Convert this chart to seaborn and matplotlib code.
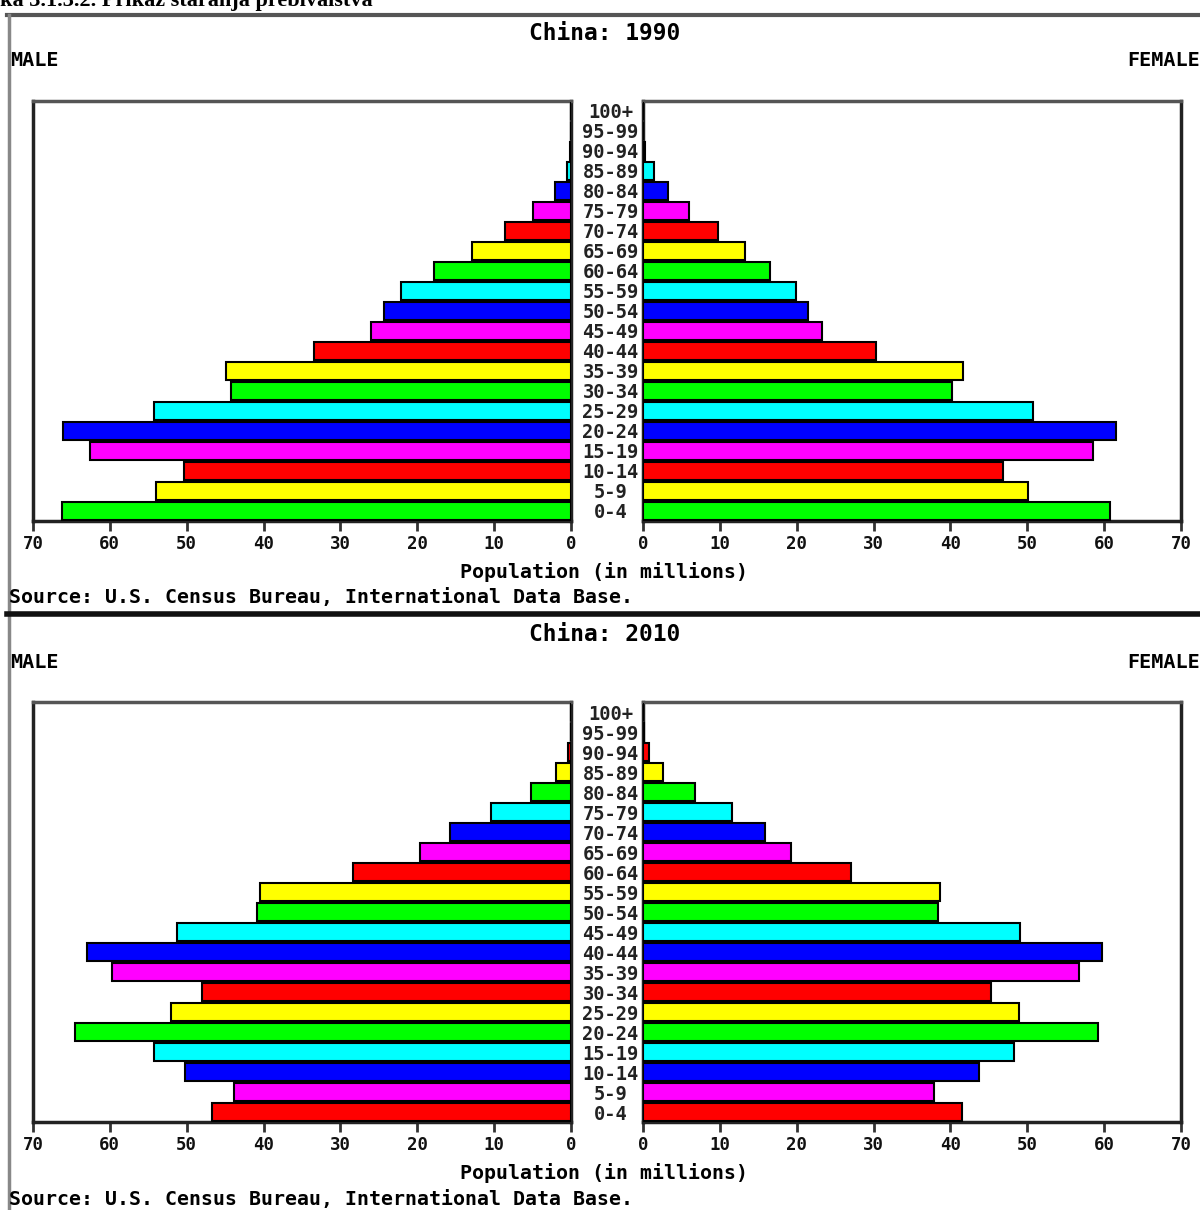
import matplotlib
matplotlib.use("Agg")
import matplotlib.pyplot as plt
import pandas as pd
import seaborn as sns

# age groups, bottom to top
ages = ["0-4", "5-9", "10-14", "15-19", "20-24", "25-29", "30-34", "35-39", "40-44",
        "45-49", "50-54", "55-59", "60-64", "65-69", "70-74", "75-79", "80-84",
        "85-89", "90-94", "95-99", "100+"]

# population in millions
male_1990 = [66.2, 54.0, 50.4, 62.6, 66.1, 54.2, 44.2, 44.9, 33.5, 26.0, 24.3,
             22.1, 17.8, 12.9, 8.6, 4.9, 2.05, 0.55, 0.1, 0.02, 0.0]
female_1990 = [60.8, 50.1, 46.9, 58.5, 61.6, 50.8, 40.2, 41.7, 30.3, 23.3, 21.5,
               19.9, 16.5, 13.3, 9.8, 6.0, 3.3, 1.4, 0.25, 0.05, 0.0]
male_2010 = [46.7, 43.9, 50.2, 54.2, 64.6, 52.0, 48.0, 59.7, 63.0, 51.2, 40.9,
             40.4, 28.4, 19.7, 15.7, 10.4, 5.2, 1.9, 0.4, 0.05, 0.0]
female_2010 = [41.5, 37.9, 43.7, 48.3, 59.2, 48.9, 45.3, 56.7, 59.7, 49.0, 38.4,
               38.7, 27.1, 19.2, 15.9, 11.6, 6.8, 2.6, 0.8, 0.1, 0.0]

ticks = [0, 10, 20, 30, 40, 50, 60, 70]
cycle = ["#00ff00", "#ffff00", "#ff0000", "#ff00ff", "#0000ff", "#00ffff"]

W, H = 1200, 1210
fig = plt.figure(figsize=(12, 12.1), dpi=100)
mono = "DejaVu Sans Mono"


def fx(x):
    return x / W


def fy(y):
    return 1 - y / H


def side(ax, col, df, pal, left):
    sns.barplot(data=df, x=col, y="age", hue="age", order=ages[::-1], palette=pal,
                legend=False, orient="h", width=0.92, saturation=1,
                edgecolor="black", linewidth=1.5, ax=ax)
    for p in ax.patches:
        p.set_zorder(3)
    ax.set_xlim((70, 0) if left else (0, 70))
    ax.set_xticks(ticks)
    ax.set_xticklabels([str(t) for t in ticks], fontfamily=mono,
                       fontweight="bold", fontsize=12.5, color="#111")
    ax.tick_params(axis="x", direction="out", length=7, width=2, color="#333", pad=3)
    ax.set_xlabel("")
    ax.set_ylabel("")
    for s in ax.spines.values():
        s.set_visible(True)
        s.set_linewidth(2.5)
        s.set_color("#222")
        s.set_zorder(2)
    ax.spines["top"].set_color("#555")
    ax.set_facecolor("white")


def panel(top, year, male, female, start):
    df = pd.DataFrame({"age": ages, "male": male, "female": female})
    pal = {a: cycle[(i + start) % 6] for i, a in enumerate(ages)}
    ax_top = top + 70
    h = 420 / H
    axl = fig.add_axes([fx(33), fy(ax_top + 420), fx(571) - fx(33), h])
    axr = fig.add_axes([fx(643), fy(ax_top + 420), fx(1181) - fx(643), h])
    side(axl, "male", df, pal, True)
    side(axr, "female", df, pal, False)
    # age labels in the gap between the two halves
    axl.tick_params(axis="y", left=False, right=False, labelleft=False,
                    labelright=True, pad=25)
    for lab in axl.get_yticklabels():
        lab.set_ha("center")
        lab.set_fontfamily(mono)
        lab.set_fontweight("bold")
        lab.set_fontsize(13.5)
        lab.set_color("#222")
    axr.tick_params(axis="y", left=False, labelleft=False)

    fig.text(fx(605), fy(top + 2), f"China: {year}", ha="center", va="center",
             fontfamily=mono, fontweight="bold", fontsize=16.5)
    fig.text(fx(10), fy(top + 30), "MALE", ha="left", va="center",
             fontfamily=mono, fontweight="bold", fontsize=14.5)
    fig.text(fx(1200), fy(top + 30), "FEMALE", ha="right", va="center",
             fontfamily=mono, fontweight="bold", fontsize=14.5)
    fig.text(fx(604), fy(top + 541), "Population (in millions)", ha="center",
             va="center", fontfamily=mono, fontweight="bold", fontsize=14.3)
    fig.text(fx(9), fy(top + 567), "Source: U.S. Census Bureau, International Data Base.",
             ha="left", va="center", fontfamily=mono, fontweight="bold", fontsize=14.3)


panel(31, 1990, male_1990, female_1990, 0)
panel(632, 2010, male_2010, female_2010, 2)

# page furniture around the two charts
fig.text(0.0, fy(6), "ka 3.1.3.2. Prikaz staranja prebivalstva", ha="left",
         va="baseline", fontfamily="Liberation Serif", fontweight="bold", fontsize=16)
fig.add_artist(plt.Line2D([fx(7), 1], [fy(15), fy(15)], color="#555", lw=3))
fig.add_artist(plt.Line2D([fx(9), fx(9)], [fy(15), 0], color="#888", lw=2.5))
fig.add_artist(plt.Line2D([fx(7), 1], [fy(614), fy(614)], color="#111", lw=4))

fig.savefig("out.png", dpi=100, facecolor="white")
